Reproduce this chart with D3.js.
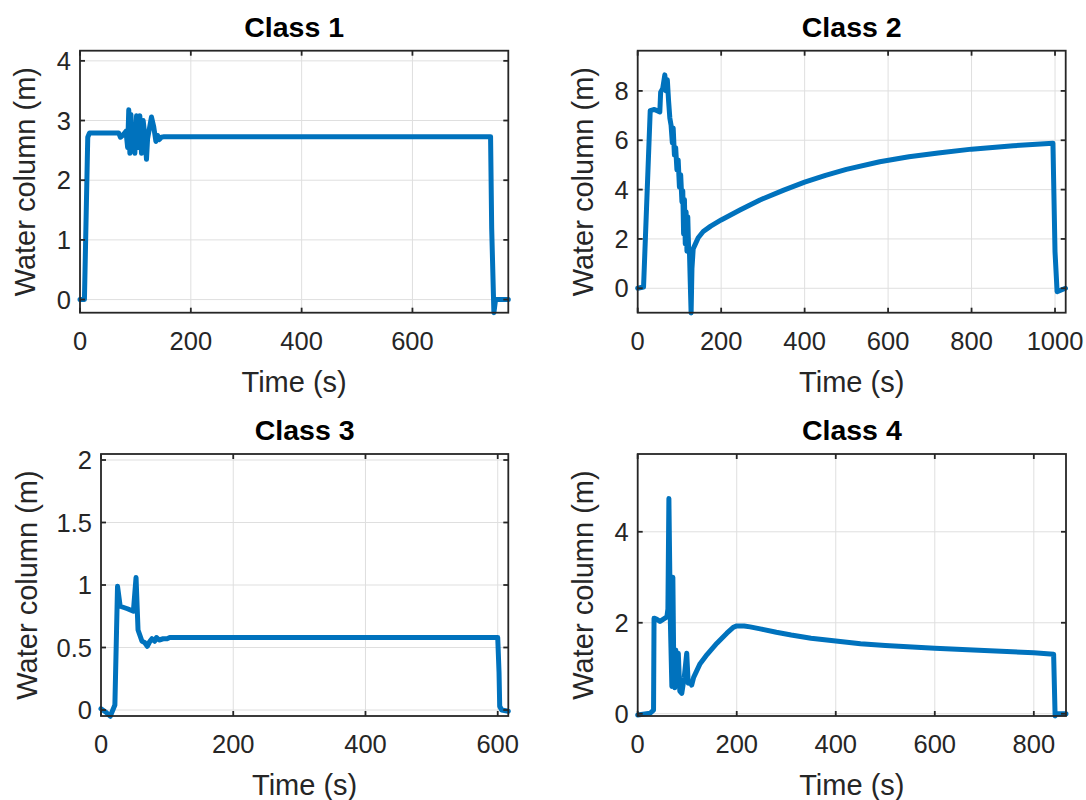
<!DOCTYPE html>
<html><head><meta charset="utf-8">
<script src="https://d3js.org/d3.v7.min.js"></script>
<style>
  body { margin: 0; background: #fff; }
  text { font-family: Arial, "Liberation Sans", Helvetica, sans-serif; fill: #262626; }
</style>
</head>
<body>
<svg width="1086" height="800"></svg>

<script>
// ---- data ----
const classNames = ['Class 1', 'Class 2', 'Class 3', 'Class 4'];

const class1Time  = [0, 8, 14, 17, 70, 73, 78, 83, 86, 88, 90, 92, 94, 96, 99, 102, 105, 108, 111, 114, 117, 120, 122, 125, 129, 133, 137, 140, 143, 147, 152, 741, 743, 747, 750, 773];
const class1Level = [0, 0, 2.72, 2.79, 2.79, 2.72, 2.76, 2.82, 2.55, 3.18, 2.45, 3.1, 2.5, 2.85, 2.45, 3.08, 2.55, 3.08, 2.45, 3.0, 2.75, 2.35, 2.7, 2.85, 3.06, 2.9, 2.65, 2.75, 2.68, 2.72, 2.73, 2.73, 1.2, -0.22, 0, 0];

const class2Time  = [0, 14, 30, 40, 53, 55, 60, 65, 68, 71, 74, 77, 80, 83, 85, 88, 91, 94, 97, 100, 103, 106, 108, 110, 112, 114, 116, 118, 120, 122, 124, 126, 128, 130, 133, 137, 145, 157, 175, 200, 245, 293, 350, 400, 450, 500, 580, 650, 720, 800, 900, 995, 1000, 1005, 1025];
const class2Level = [0, 0.05, 7.2, 7.25, 7.15, 7.95, 8.1, 8.65, 8.0, 8.45, 7.6, 6.9, 6.6, 5.9, 6.5, 5.4, 5.7, 4.8, 5.2, 4.1, 4.6, 3.5, 3.95, 2.2, 3.6, 1.8, 3.1, 1.5, 2.9, 1.6, 1.5, 0.2, -1.0, 0.8, 1.6, 1.75, 2.05, 2.3, 2.52, 2.77, 3.17, 3.58, 3.98, 4.3, 4.58, 4.82, 5.13, 5.33, 5.48, 5.64, 5.78, 5.88, 1.48, -0.14, 0];

const class3Time  = [0, 8, 14, 21, 25, 29, 40, 49, 53, 56, 62, 66, 70, 74, 77, 81, 84, 88, 94, 100, 104, 110, 600, 602, 603, 606, 616];
const class3Level = [0.01, -0.02, -0.05, 0.04, 0.99, 0.83, 0.81, 0.79, 1.06, 0.64, 0.55, 0.54, 0.51, 0.55, 0.57, 0.55, 0.58, 0.56, 0.57, 0.57, 0.58, 0.58, 0.58, 0.3, 0.03, 0.0, -0.01];

const class4Time  = [0, 25, 32, 33, 38, 45, 52, 59, 61, 63, 66, 69, 71, 73, 75, 77, 80, 82, 85, 89, 94, 99, 102, 106, 109, 113, 126, 140, 160, 180, 193, 200, 215, 227, 250, 280, 310, 350, 400, 450, 500, 600, 700, 800, 840, 843, 845, 865];
const class4Level = [-0.03, 0.01, 0.08, 2.1, 2.08, 2.03, 2.08, 2.13, 2.3, 4.73, 2.0, 0.6, 3.0, 0.9, 0.57, 1.4, 0.7, 1.33, 0.5, 0.45, 0.8, 1.33, 0.67, 0.7, 0.63, 0.8, 1.1, 1.3, 1.55, 1.77, 1.9, 1.93, 1.93, 1.91, 1.86, 1.79, 1.73, 1.66, 1.6, 1.54, 1.5, 1.44, 1.39, 1.34, 1.31, -0.05, 0, 0];

const class1XTicks = [0, 200, 400, 600];
const class1YTicks = [0, 1, 2, 3, 4];
const class2XTicks = [0, 200, 400, 600, 800, 1000];
const class2YTicks = [0, 2, 4, 6, 8];
const class3XTicks = [0, 200, 400, 600];
const class3YTicks = [0, 0.5, 1, 1.5, 2];
const class4XTicks = [0, 200, 400, 600, 800];
const class4YTicks = [0, 2, 4];

const xLabel = 'Time (s)';
const yLabel = 'Water column (m)';

// ---- layout ----
const panels = [
  { title: classNames[0], t: class1Time, h: class1Level, xDom: [0, 773],  yDom: [-0.22, 4.17],  xt: class1XTicks, yt: class1YTicks, l: 80,    tp: 50.7, r: 508.3,  b: 312.7, lab: 45 },
  { title: classNames[1], t: class2Time, h: class2Level, xDom: [0, 1025.6], yDom: [-0.99, 9.63], xt: class2XTicks, yt: class2YTicks, l: 637.7, tp: 50.7, r: 1065.7, b: 312.7, lab: 44.5 },
  { title: classNames[2], t: class3Time, h: class3Level, xDom: [0, 616],  yDom: [-0.048, 2.048], xt: class3XTicks, yt: class3YTicks, l: 101,   tp: 454,  r: 508.3,  b: 716,   lab: 64 },
  { title: classNames[3], t: class4Time, h: class4Level, xDom: [0, 865],  yDom: [-0.05, 5.71],  xt: class4XTicks, yt: class4YTicks, l: 637.7, tp: 454,  r: 1066,   b: 716,   lab: 44.5 }
];

const svg = d3.select('svg');
const axisColor = '#262626';
const gridColor = '#dfdfdf';
const lineColor = '#0072BD';
const tickLen = 5;

panels.forEach(function(p) {
  const x = d3.scaleLinear().domain(p.xDom).range([p.l, p.r]);
  const y = d3.scaleLinear().domain(p.yDom).range([p.b, p.tp]);
  const g = svg.append('g');

  // grid
  g.selectAll('.gx').data(p.xt).enter().append('line')
    .attr('x1', d => x(d)).attr('x2', d => x(d))
    .attr('y1', p.tp).attr('y2', p.b)
    .attr('stroke', gridColor).attr('stroke-width', 1);
  g.selectAll('.gy').data(p.yt).enter().append('line')
    .attr('x1', p.l).attr('x2', p.r)
    .attr('y1', d => y(d)).attr('y2', d => y(d))
    .attr('stroke', gridColor).attr('stroke-width', 1);

  // data line
  const pts = p.t.map((d, i) => [d, p.h[i]]);
  g.append('path')
    .datum(pts)
    .attr('fill', 'none')
    .attr('stroke', lineColor)
    .attr('stroke-width', 5)
    .attr('stroke-linejoin', 'round')
    .attr('stroke-linecap', 'round')
    .attr('d', d3.line().x(d => x(d[0])).y(d => y(d[1])));

  // box
  g.append('rect')
    .attr('x', p.l).attr('y', p.tp)
    .attr('width', p.r - p.l).attr('height', p.b - p.tp)
    .attr('fill', 'none').attr('stroke', axisColor).attr('stroke-width', 1.8);

  // inward ticks on all four sides
  g.selectAll('.tb').data(p.xt).enter().append('line')
    .attr('x1', d => x(d)).attr('x2', d => x(d))
    .attr('y1', p.b).attr('y2', p.b - tickLen)
    .attr('stroke', axisColor).attr('stroke-width', 1.8);
  g.selectAll('.tt').data(p.xt).enter().append('line')
    .attr('x1', d => x(d)).attr('x2', d => x(d))
    .attr('y1', p.tp).attr('y2', p.tp + tickLen)
    .attr('stroke', axisColor).attr('stroke-width', 1.8);
  g.selectAll('.tl').data(p.yt).enter().append('line')
    .attr('x1', p.l).attr('x2', p.l + tickLen)
    .attr('y1', d => y(d)).attr('y2', d => y(d))
    .attr('stroke', axisColor).attr('stroke-width', 1.8);
  g.selectAll('.tr').data(p.yt).enter().append('line')
    .attr('x1', p.r).attr('x2', p.r - tickLen)
    .attr('y1', d => y(d)).attr('y2', d => y(d))
    .attr('stroke', axisColor).attr('stroke-width', 1.8);

  // tick labels
  g.selectAll('.xl').data(p.xt).enter().append('text')
    .attr('x', d => x(d)).attr('y', p.b + 37)
    .attr('text-anchor', 'middle')
    .style('font-size', '25.5px')
    .text(d => d);
  g.selectAll('.yl').data(p.yt).enter().append('text')
    .attr('x', p.l - 9).attr('y', d => y(d))
    .attr('dy', '0.36em')
    .attr('text-anchor', 'end')
    .style('font-size', '25.5px')
    .text(d => d);

  // axis titles
  g.append('text')
    .attr('x', (p.l + p.r) / 2).attr('y', p.b + 79)
    .attr('text-anchor', 'middle')
    .style('font-size', '29px')
    .text(xLabel);
  g.append('text')
    .attr('transform', 'translate(' + (p.l - p.lab) + ',' + ((p.tp + p.b) / 2) + ') rotate(-90)')
    .attr('text-anchor', 'middle')
    .style('font-size', '29px')
    .text(yLabel);

  // panel title
  g.append('text')
    .attr('x', (p.l + p.r) / 2).attr('y', p.tp - 14)
    .attr('text-anchor', 'middle')
    .style('font-size', '28.5px')
    .style('font-weight', 'bold')
    .style('fill', '#000')
    .text(p.title);
});
</script>
</body></html>
